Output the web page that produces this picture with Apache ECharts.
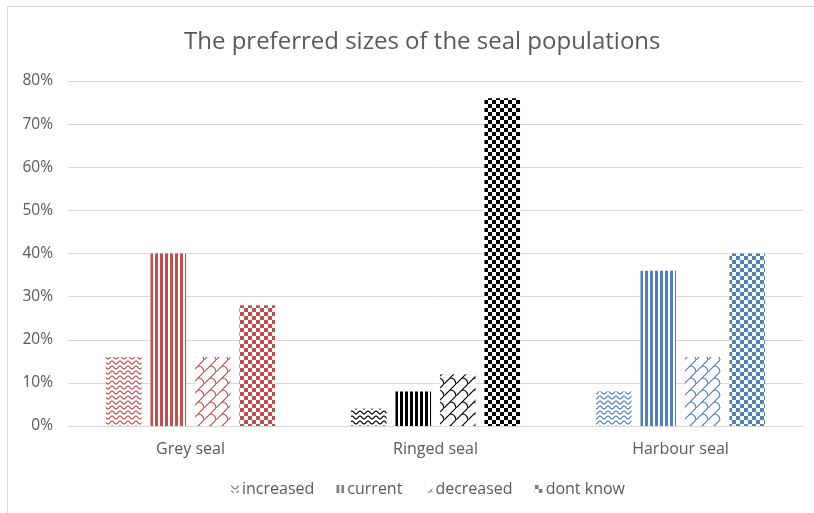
<!DOCTYPE html>
<html>
<head>
<meta charset="utf-8">
<script src="https://cdn.jsdelivr.net/npm/echarts@6/dist/echarts.min.js"></script>
<style>
  html, body { margin: 0; padding: 0; background: #fff; }
  #chart { width: 814px; height: 513px; }
</style>
</head>
<body>
<div id="chart"></div>
<script>
// Survey answers per seal species
const categories = ['Grey seal', 'Ringed seal', 'Harbour seal'];
const seriesNames = ['increased', 'current', 'decreased', 'dont know'];
const increased = [16, 4, 8];
const current = [40, 8, 36];
const decreased = [16, 12, 16];
const dontKnow = [28, 76, 40];
const yTicks = [0, 10, 20, 30, 40, 50, 60, 70, 80];

const speciesColors = ['#C0504D', '#000000', '#4F81BD'];
const legendColor = '#7f7f7f';

// Pattern tiles, one painter per answer
function makeTile(w, h, paint) {
  const c = document.createElement('canvas');
  c.width = w; c.height = h;
  const ctx = c.getContext('2d');
  ctx.fillStyle = '#fff';
  ctx.fillRect(0, 0, w, h);
  paint(ctx, w, h);
  return { image: c, repeat: 'repeat' };
}
const painters = {
  wave: (color) => makeTile(8, 5, (ctx, w, h) => {
    ctx.strokeStyle = color; ctx.lineWidth = 1.2;
    ctx.beginPath();
    for (let x = 0; x <= w; x += 0.5) {
      const y = 2.5 - 1.5 * Math.cos(2 * Math.PI * x / w);
      if (x === 0) ctx.moveTo(x, y); else ctx.lineTo(x, y);
    }
    ctx.stroke();
  }),
  stripes: (color) => makeTile(5, 4, (ctx, w, h) => {
    ctx.fillStyle = color;
    ctx.fillRect(0, 0, 3, h);
  }),
  shingle: (color) => makeTile(12, 12, (ctx, w, h) => {
    ctx.strokeStyle = color; ctx.lineWidth = 1.2;
    ctx.beginPath();
    ctx.moveTo(-1, 13); ctx.lineTo(13, -1);
    ctx.moveTo(6, 6); ctx.quadraticCurveTo(11, 6, 12, 12);
    ctx.moveTo(-6, -6); ctx.quadraticCurveTo(-1, -6, 0, 0);
    ctx.moveTo(18, 18); ctx.quadraticCurveTo(23, 18, 24, 24);
    ctx.stroke();
  }),
  checker: (color) => makeTile(8, 8, (ctx, w, h) => {
    ctx.fillStyle = color;
    ctx.fillRect(0, 0, 4, 4);
    ctx.fillRect(4, 4, 4, 4);
  })
};
const patternKinds = ['wave', 'stripes', 'shingle', 'checker'];
const seriesValues = [increased, current, decreased, dontKnow];

const series = seriesNames.map((name, si) => ({
  name,
  type: 'bar',
  barGap: '25%',
  barCategoryGap: '31%',
  itemStyle: { color: painters[patternKinds[si]](legendColor) },
  data: seriesValues[si].map((v, ci) => ({
    value: v,
    itemStyle: { color: painters[patternKinds[si]](speciesColors[ci]) }
  }))
}));

const chart = echarts.init(document.getElementById('chart'), null, { renderer: 'canvas' });
chart.setOption({
  animation: false,
  backgroundColor: '#fff',
  textStyle: { fontFamily: 'Open Sans' },
  title: {
    text: 'The preferred sizes of the seal populations',
    left: 179,
    top: 25,
    textStyle: { fontFamily: 'Open Sans', fontSize: 24, fontWeight: 'normal', color: '#595959' }
  },
  graphic: [{
    type: 'rect',
    shape: { x: 7.5, y: 6.5, width: 820, height: 520 },
    style: { fill: 'none', stroke: '#d9d9d9', lineWidth: 1 },
    silent: true
  }],
  legend: {
    data: seriesNames,
    bottom: 11,
    left: 226,
    itemWidth: 8,
    itemHeight: 8,
    itemGap: 22,
    icon: 'rect',
    textStyle: { fontFamily: 'Open Sans', fontSize: 16, color: '#595959', padding: [0, 0, 0, -2] }
  },
  grid: { left: 68, right: 11, top: 81, bottom: 87, containLabel: false },
  xAxis: {
    type: 'category',
    data: categories,
    axisLine: { lineStyle: { color: '#d9d9d9' } },
    axisTick: { show: false },
    axisLabel: { fontFamily: 'Open Sans', fontSize: 16, color: '#595959', margin: 15 }
  },
  yAxis: {
    type: 'value',
    min: yTicks[0],
    max: yTicks[yTicks.length - 1],
    interval: 10,
    axisLine: { show: false },
    axisTick: { show: false },
    splitLine: { lineStyle: { color: '#d9d9d9' } },
    axisLabel: { fontFamily: 'Open Sans', fontSize: 15.5, color: '#595959', margin: 15, formatter: '{value}%' }
  },
  series
});
</script>
</body>
</html>
